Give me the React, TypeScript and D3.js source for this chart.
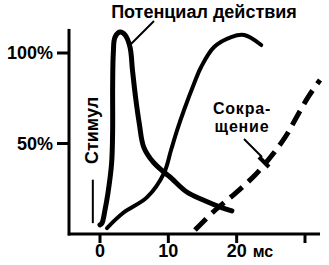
import React from "react";
import * as d3 from "d3";

// time (ms) and amplitude (% of max)
const apTime = [0, 0.3, 0.73, 1.17, 1.7, 1.85, 1.85, 1.95, 2.2, 2.93, 3.66, 4.39, 4.75, 5.2, 5.75, 6.4, 7.76, 9.5, 10.25, 12.7, 15.1, 17.6, 19.3];
const apValue = [5, 6.1, 13.3, 22.7, 39.2, 57.5, 81.2, 100, 108.8, 111.6, 110, 103.3, 90.6, 75.7, 61, 48, 39.8, 33.7, 31.5, 23.2, 18.8, 14.9, 12.8];

const riseTime = [1.02, 3.37, 6.9, 9.37, 10.4, 11.3, 12.3, 13.8, 14.8, 16.7, 19.2, 21.1, 23.6];
const riseValue = [3.3, 11.6, 20.4, 33.7, 46.4, 57.5, 68.5, 83.4, 92.3, 103.3, 108.8, 109.9, 104.4];

const contrTime = [13.9, 16.6, 19.8, 22.7, 25.4, 27.3, 28.8, 30.5, 32.2];
const contrValue = [2.2, 12.3, 22.5, 32.6, 44.6, 54.7, 64.8, 75.9, 85.1];

const xTicks = [0, 10, 20, 30];
const xTickLabels = ["0", "10", "20", ""];
const xUnit = "мс";
const yTicks = [50, 100];
const yTickLabels = ["50%", "100%"];
const xExtent = [-4.7, 32.2];
const yExtent = [0, 113.3];
const stimulusTime = -1.05;
const stimulusRange = [6, 30];

const titleText = "Потенциал действия";
const stimText = "Стимул";
const contrText = ["Сокра-", "щение"];

export default function App() {
  const W = 329, H = 265;
  const x = d3.scaleLinear().domain([0, 30]).range([100, 305]);
  const y = d3.scaleLinear().domain([0, 100]).range([234, 53]);
  const line = d3
    .line<[number, number]>()
    .x((d) => x(d[0]))
    .y((d) => y(d[1]))
    .curve(d3.curveCatmullRom.alpha(0.5));
  const ap = line(apTime.map((t, i) => [t, apValue[i]]) as [number, number][]) || "";
  const rise = line(riseTime.map((t, i) => [t, riseValue[i]]) as [number, number][]) || "";
  const contr = line(contrTime.map((t, i) => [t, contrValue[i]]) as [number, number][]) || "";
  const font = "'Liberation Sans', Arial, sans-serif";

  return (
    <svg width={W} height={H} style={{ position: "absolute", left: 0, top: 0, background: "#fff" }} fontFamily={font}>
      <rect width={W} height={H} fill="#fff" />
      {/* axes */}
      <line x1={x(0) - 31} x2={x(0) - 31} y1={y(yExtent[0]) + 1.5} y2={y(yExtent[1])} stroke="#000" strokeWidth={3} />
      <line x1={x(xExtent[0])} x2={x(xExtent[1])} y1={y(0)} y2={y(0)} stroke="#000" strokeWidth={3} />
      {yTicks.map((t, i) => (
        <g key={"y" + t}>
          <line x1={x(0) - 43} x2={x(0) - 31} y1={y(t)} y2={y(t)} stroke="#000" strokeWidth={3} />
          <text x={x(0) - 47} y={y(t) + 6} textAnchor="end" fontSize={18} fontWeight="bold">
            {yTickLabels[i]}
          </text>
        </g>
      ))}
      {xTicks.map((t, i) => (
        <g key={"x" + t}>
          <line x1={x(t)} x2={x(t)} y1={y(0)} y2={y(0) + 9} stroke="#000" strokeWidth={3} />
          <text x={x(t)} y={257} textAnchor="middle" fontSize={18} fontWeight="bold">
            {xTickLabels[i]}
          </text>
        </g>
      ))}
      <text x={x(20) + 16} y={257} fontSize={16} fontWeight="bold">
        {xUnit}
      </text>

      {/* stimulus */}
      <line x1={x(stimulusTime)} x2={x(stimulusTime)} y1={y(stimulusRange[0])} y2={y(stimulusRange[1])} stroke="#000" strokeWidth={2} />
      <text transform={`translate(${x(stimulusTime) + 5},${130.5}) rotate(-90)`} textAnchor="middle" fontSize={18} fontWeight="bold">
        {stimText}
      </text>

      {/* curves */}
      <path d={rise} fill="none" stroke="#000" strokeWidth={4} strokeLinecap="round" />
      <path d={ap} fill="none" stroke="#000" strokeWidth={5} strokeLinecap="round" />
      <path d={contr} fill="none" stroke="#000" strokeWidth={5} strokeDasharray="16 8" />

      {/* title label + leader */}
      <text x={204} y={18} textAnchor="middle" fontSize={18} fontWeight="bold">
        {titleText}
      </text>
      <line x1={154} y1={21} x2={130} y2={45} stroke="#000" strokeWidth={2} />

      {/* contraction label + leader */}
      <text x={242} y={114} textAnchor="middle" fontSize={16} fontWeight="bold" letterSpacing={0.8}>
        {contrText[0]}
      </text>
      <text x={242} y={132} textAnchor="middle" fontSize={16} fontWeight="bold" letterSpacing={0.8}>
        {contrText[1]}
      </text>
      <line x1={244} y1={139} x2={262} y2={157} stroke="#000" strokeWidth={2} />
      <line x1={259} y1={157} x2={269} y2={167} stroke="#000" strokeWidth={4} />
    </svg>
  );
}
